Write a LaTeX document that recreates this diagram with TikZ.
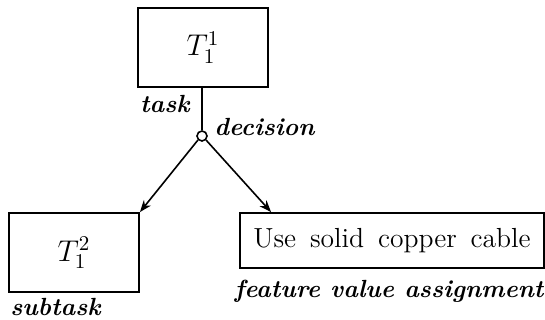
\RequirePackage{fix-cm}
\documentclass[tikz,border=0pt]{standalone}
\usetikzlibrary{arrows.meta}
\begin{document}
\begin{tikzpicture}[x=0.5pt,y=-0.5pt,
  every node/.style={font=\fontsize{13.8}{16}\selectfont},
  taskbox/.style={draw,line width=0.9pt,inner sep=0pt},
  mathbox/.style={taskbox,font=\fontsize{15}{18}\selectfont},
  tag/.style={font=\fontsize{12.4}{15}\selectfont\bfseries\itshape,inner sep=0pt},
  link/.style={line width=0.8pt},
  arr/.style={line width=0.8pt,-{Stealth[length=6pt,width=4.5pt]}}]
\useasboundingbox (0,0) rectangle (545,320);
% tasks
\node[mathbox,minimum width=65pt,minimum height=39.5pt] (t11) at (203,47.5) {$T_1^1$};
\node[mathbox,minimum width=65pt,minimum height=39.5pt] (t12) at (74,252.5) {$T_1^2$};
\node[taskbox,minimum width=152pt,minimum height=27.5pt] (fv) at (392,240.5) {Use\hspace{0.5em}solid\hspace{0.5em}copper\hspace{0.5em}cable};
% decision point
\node[draw,circle,line width=0.8pt,minimum size=5pt,inner sep=0pt] (dec) at (202,136) {};
\draw[link] (t11.south -| dec) -- (dec.north);
\draw[arr] (dec.south west) -- (t12.north east);
\draw[arr] (dec.south east) -- ([xshift=16pt]fv.north west);
% labels
\node[tag,anchor=east] (ltask) at (190,104) {task};
\node[tag,anchor=west] (ldec) at (214,127) {decision};
\node[tag,anchor=west] (lsub) at (10,307) {subtask};
\node[tag] (lfv) at (389,291) {feature value assignment};
\end{tikzpicture}
\end{document}
